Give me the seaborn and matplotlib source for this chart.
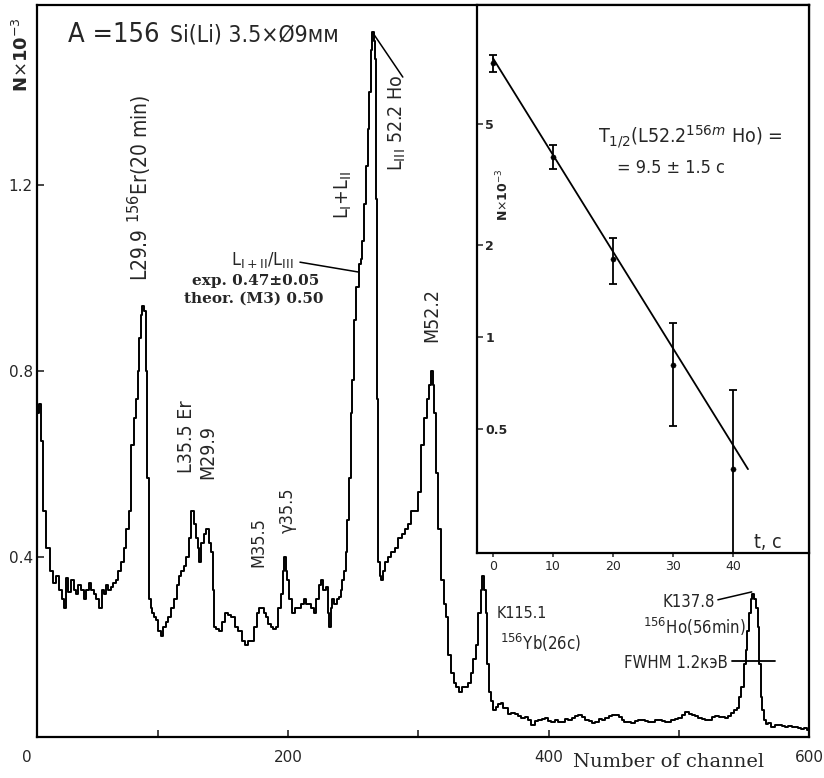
import matplotlib
matplotlib.use("Agg")
import matplotlib.pyplot as plt
import seaborn as sns
import numpy as np
import pandas as pd

# ---- spectrum: channel number and counts (N x 10^-3) ----
channel = [
    7.8, 9.3, 10.8, 13.1, 15.4, 18.5, 20.5, 22.4, 24.7, 27.0, 28.5, 30.0, 32.3, 34.6, 36.0,
    37.7, 40.0, 42.0, 43.9, 45.5, 47.7, 49.5, 51.5, 53.5, 55.4, 57.7, 59.0, 60.8, 62.5, 64.6,
    66.5, 68.4, 70.7, 72.5, 74.6, 76.5, 78.4, 80.7, 82.5, 83.8, 85.0, 86.1, 87.3, 88.4, 89.9,
    91.0, 91.5, 92.2, 93.8, 95.0, 96.1, 97.5, 99.2, 101.0, 103.0, 105.0, 106.8, 109.0, 111.4,
    113.5, 115.0, 116.8, 118.5, 120.7, 122.5, 124.5, 126.8, 128.5, 129.9, 131.0, 132.2, 134.0,
    136.0, 138.3, 140.0, 141.4, 142.5, 143.7, 145.5, 147.5, 150.0, 152.9, 155.0, 157.5, 160.0,
    162.9, 165.5, 168.3, 170.5, 172.9, 175.0, 176.7, 178.5, 180.6, 182.0, 183.6, 185.5, 187.5,
    189.5, 191.3, 193.5, 195.2, 196.5, 197.5, 198.5, 199.8, 201.5, 203.6, 206.0, 209.0, 211.0,
    212.8, 214.5, 216.7, 218.5, 220.5, 222.5, 224.0, 225.9, 227.8, 229.7, 231.0, 232.0, 233.0,
    234.3, 236.5, 238.0, 239.7, 241.0, 242.0, 243.5, 245.1, 245.8, 247.4, 248.9, 249.7, 251.2,
    253.5, 255.1, 256.0, 257.4, 259.0, 260.4, 261.5, 262.7, 264.3, 265.0, 266.2, 267.4, 268.1,
    268.9, 269.7, 270.8, 272.0, 273.5, 275.8, 278.0, 280.4, 283.0, 285.8, 288.5, 291.2, 293.5,
    295.8, 298.8, 301.1, 303.4, 305.5, 307.3, 309.0, 310.4, 311.5, 312.7, 314.2, 316.5, 318.8,
    320.5, 321.9, 324.2, 326.0, 328.0, 330.0, 331.9, 334.5, 337.2, 339.0, 341.1, 343.0, 344.9,
    347.2, 348.5, 349.5, 350.8, 352.6, 353.4, 354.9, 356.4, 358.7, 360.3, 362.0, 364.1, 366.0,
    368.0, 370.3, 372.6, 375.6, 378.0, 380.2, 383.0, 385.6, 387.9, 390.5, 393.3, 396.0, 398.7,
    401.0, 403.3, 406.0, 408.5, 411.0, 413.5, 416.3, 419.0, 421.5, 424.0, 426.5, 429.4, 432.0,
    434.5, 437.1, 440.0, 442.5, 444.8, 447.5, 450.0, 452.4, 455.0, 457.0, 459.5, 462.0, 464.7,
    467.5, 470.0, 472.4, 475.0, 477.5, 480.1, 483.0, 485.5, 488.0, 490.5, 493.1, 495.5, 498.0,
    500.8, 503.5, 505.5, 507.0, 509.0, 510.8, 513.5, 516.2, 519.0, 521.5, 523.9, 526.5, 529.2,
    532.0, 534.5, 536.9, 539.0, 541.5, 543.5, 545.4, 546.9, 549.2, 550.7, 552.3, 553.0, 554.5,
    556.1, 556.9, 558.5, 560.0, 561.2, 562.3, 563.5, 564.6, 566.0, 567.7, 570.0, 572.2, 575.0,
    577.6, 580.5, 583.0, 585.3, 588.0, 590.5, 592.9, 595.5, 597.5, 599.1,
]
counts = [
    0.71, 0.73, 0.65, 0.50, 0.42, 0.37, 0.345, 0.36, 0.33, 0.31, 0.29, 0.355, 0.325, 0.35, 0.33,
    0.32, 0.34, 0.33, 0.31, 0.33, 0.345, 0.33, 0.32, 0.31, 0.29, 0.33, 0.32, 0.34, 0.33, 0.335,
    0.345, 0.35, 0.37, 0.39, 0.42, 0.46, 0.50, 0.64, 0.70, 0.74, 0.80, 0.87, 0.92, 0.94, 0.93,
    0.80, 0.73, 0.57, 0.31, 0.29, 0.28, 0.27, 0.265, 0.24, 0.23, 0.25, 0.26, 0.27, 0.29,
    0.31, 0.34, 0.36, 0.37, 0.38, 0.40, 0.44, 0.50, 0.47, 0.44, 0.42, 0.39, 0.43,
    0.45, 0.46, 0.43, 0.41, 0.33, 0.25, 0.245, 0.24, 0.26, 0.28, 0.275, 0.27, 0.25,
    0.24, 0.22, 0.21, 0.22, 0.22, 0.25, 0.28, 0.29, 0.29, 0.28, 0.27, 0.255, 0.25,
    0.245, 0.25, 0.29, 0.32, 0.37, 0.40, 0.37, 0.35, 0.31, 0.28, 0.29, 0.29, 0.30,
    0.31, 0.30, 0.30, 0.29, 0.28, 0.31, 0.34, 0.35, 0.33, 0.335, 0.28, 0.25, 0.29,
    0.31, 0.30, 0.31, 0.315, 0.33, 0.35, 0.37, 0.41, 0.48, 0.57, 0.71, 0.78, 0.91,
    0.98, 1.03, 1.04, 1.08, 1.16, 1.24, 1.32, 1.40, 1.49, 1.53, 1.51, 1.47, 1.17,
    0.74, 0.39, 0.36, 0.35, 0.37, 0.39, 0.40, 0.41, 0.42, 0.44, 0.45, 0.46, 0.47,
    0.50, 0.50, 0.54, 0.64, 0.70, 0.74, 0.77, 0.80, 0.77, 0.71, 0.58, 0.46, 0.35,
    0.30, 0.27, 0.19, 0.15, 0.13, 0.12, 0.11, 0.12, 0.12, 0.13, 0.15, 0.18, 0.21,
    0.28, 0.33, 0.36, 0.33, 0.28, 0.17, 0.11, 0.09, 0.071, 0.078, 0.085, 0.086, 0.075,
    0.076, 0.062, 0.065, 0.063, 0.058, 0.054, 0.055, 0.050, 0.039, 0.048, 0.050, 0.052, 0.054,
    0.048, 0.046, 0.050, 0.045, 0.046, 0.052, 0.050, 0.054, 0.058, 0.061, 0.055, 0.050, 0.048,
    0.043, 0.046, 0.052, 0.050, 0.054, 0.058, 0.060, 0.061, 0.055, 0.050, 0.046, 0.045, 0.043,
    0.047, 0.050, 0.050, 0.048, 0.045, 0.046, 0.049, 0.050, 0.047, 0.045, 0.046, 0.050, 0.052,
    0.054, 0.060, 0.067, 0.067, 0.063, 0.061, 0.058, 0.054, 0.052, 0.050, 0.050, 0.055, 0.058,
    0.056, 0.055, 0.054, 0.058, 0.065, 0.070, 0.076, 0.10, 0.12, 0.17, 0.20, 0.24, 0.28,
    0.31, 0.32, 0.31, 0.29, 0.25, 0.17, 0.10, 0.07, 0.05, 0.04, 0.043, 0.035, 0.038,
    0.039, 0.036, 0.035, 0.037, 0.034, 0.035, 0.033, 0.031, 0.033, 0.028,
]

# ---- decay of the L 52.2 line (inset) ----
decay_time = [0, 10, 20, 30, 40]
decay_counts = [7.9, 3.9, 1.8, 0.81, 0.37]
decay_err = [0.5, 0.35, 0.31, 0.30, 0.30]
half_life = 9.5
fit_n0 = 8.2
fit_t_end = 42.5

x_major_labels = ["200", "400", "600"]
y_main_ticks = [0.4, 0.8, 1.2]
inset_y_ticks = [0.5, 1, 2, 5]
inset_x_ticks = [0, 10, 20, 30, 40]

sns.set_theme(style="white")
plt.rcParams["font.family"] = ["DejaVu Sans"]
plt.rcParams["mathtext.fontset"] = "dejavusans"

# condensed lettering for the hand-drawn style labels
LAB = dict(family=["DejaVu Sans"], fontstretch="condensed")

W, H = 824, 778
fig = plt.figure(figsize=(W / 100, H / 100), dpi=100)
fig.patch.set_facecolor("white")


def fxy(px, py):
    return px / W, 1 - py / H


# ---- main spectrum axes ----
ax = fig.add_axes([37 / W, 1 - 737 / H, 772 / W, 732 / H])
ax.set_facecolor("white")
spec = pd.DataFrame({"channel": channel, "N": counts})
sns.lineplot(data=spec, x="channel", y="N", ax=ax, color="black", lw=1.4,
             drawstyle="steps-mid", estimator=None, sort=False)
ax.set_xlim(7, 600)
ax.set_ylim(0.013, 1.587)
ax.set_xlabel("")
ax.set_ylabel("")
for s in ax.spines.values():
    s.set_color("black")
    s.set_linewidth(1.6)

ax.set_xticks([100, 200, 300, 400, 500, 600])
ax.set_xticklabels(["", x_major_labels[0], "", x_major_labels[1], "", x_major_labels[2]])
ax.set_yticks(y_main_ticks)
ax.set_yticklabels([f"{v:.1f}" for v in y_main_ticks])
ax.tick_params(axis="x", direction="in", length=5, width=1.2, pad=9, labelsize=11)
ax.tick_params(axis="y", direction="in", length=5, width=1.2, pad=3, labelsize=11)
ax.tick_params(bottom=True, left=True)

fig.text(*fxy(27, 757), "0", ha="center", va="center", fontsize=11)
fig.text(*fxy(573, 762), "Number of channel", ha="left", va="center",
         fontsize=14, family="DejaVu Serif")
fig.text(*fxy(22, 55), r"N$\times$10$^{-3}$", rotation=90, ha="center", va="center",
         fontsize=13, fontweight="bold")

fig.text(*fxy(68, 35), "A =156", ha="left", va="center", fontsize=19.5, **LAB)
fig.text(*fxy(170, 35), "Si(Li) 3.5×Ø9мм", ha="left", va="center", fontsize=16.5, **LAB)

# peak labels
rot_labels = [
    (r"L29.9 $^{156}$Er(20 min)", 140, 188, 15),
    (r"L$_{\rm I}$+L$_{\rm II}$", 343, 195, 14),
    (r"L$_{\rm III}$ 52.2 Ho", 397, 123, 14),
    ("M52.2", 432, 315, 14),
    ("L35.5 Er", 187, 437, 14),
    ("M29.9", 208, 452, 14),
    ("M35.5", 258, 542, 13),
    ("γ35.5", 288, 510, 13),
]
for txt, px, py, fs in rot_labels:
    fig.text(*fxy(px, py), txt, rotation=90, ha="center", va="center", fontsize=fs, **LAB)

fig.text(*fxy(262, 260), r"L$_{\rm I+II}$/L$_{\rm III}$", ha="center", va="center",
         fontsize=13, **LAB)
fig.text(*fxy(256, 281), "exp. 0.47±0.05", ha="center", va="center", fontsize=11,
         family="DejaVu Serif", fontweight="bold")
fig.text(*fxy(254, 299), "theor. (M3) 0.50", ha="center", va="center", fontsize=11,
         family="DejaVu Serif", fontweight="bold")

fig.text(*fxy(497, 613), "K115.1", ha="left", va="center", fontsize=11.5, **LAB)
fig.text(*fxy(500, 643), r"$^{156}$Yb(26c)", ha="left", va="center", fontsize=12, **LAB)
fig.text(*fxy(663, 602), "K137.8", ha="left", va="center", fontsize=12, **LAB)
fig.text(*fxy(643, 627), r"$^{156}$Ho(56min)", ha="left", va="center", fontsize=12, **LAB)
fig.text(*fxy(624, 663), "FWHM 1.2кэВ", ha="left", va="center", fontsize=12, **LAB)

# leader lines in data coordinates
ax.plot([265.0, 288.0], [1.527, 1.432], color="black", lw=1.1)
ax.plot([209.0, 253.5], [1.034, 1.013], color="black", lw=1.1)
ax.plot([530.0, 556.0], [0.308, 0.325], color="black", lw=1.1)
ax.plot([541.0, 574.0], [0.177, 0.177], color="black", lw=1.3)

# ---- inset: decay curve on log scale ----
ins = fig.add_axes([477 / W, 1 - 553 / H, 332 / W, 548 / H])
ins.set_facecolor("white")
ins.set_yscale("log")
ins.set_xlim(-2.67, 52.67)
ins.set_ylim(0.196, 12.26)
for s in ins.spines.values():
    s.set_color("black")
    s.set_linewidth(1.6)

t_fit = np.linspace(0, fit_t_end, 50)
fit_df = pd.DataFrame({"t": t_fit, "N": fit_n0 * 2.0 ** (-t_fit / half_life)})
sns.lineplot(data=fit_df, x="t", y="N", ax=ins, color="black", lw=1.3, estimator=None)
ins.errorbar(decay_time, decay_counts, yerr=decay_err, fmt="none", ecolor="black",
             elinewidth=1.3, capsize=3, capthick=1.3)
sns.scatterplot(x=decay_time, y=decay_counts, ax=ins, color="black", s=14,
                edgecolor="black", zorder=5)
ins.set_xlabel("")
ins.set_ylabel("")

ins.set_xticks(inset_x_ticks)
ins.set_xticklabels([str(v) for v in inset_x_ticks])
ins.tick_params(axis="x", direction="out", length=3, width=1.1, pad=2, labelsize=9)
ins.set_yticks(inset_y_ticks)
ins.set_yticklabels(["0.5", "1", "2", "5"])
ins.yaxis.set_minor_locator(matplotlib.ticker.NullLocator())
ins.tick_params(axis="y", direction="in", length=4, width=1.1, pad=-6, labelsize=9)
for lab in ins.get_yticklabels():
    lab.set_horizontalalignment("left")
    lab.set_fontweight("bold")
ins.tick_params(bottom=True, left=True)

fig.text(*fxy(503, 195), r"N$\times$10$^{-3}$", rotation=90, ha="center", va="center",
         fontsize=9, fontweight="bold")
fig.text(*fxy(768, 543), "t, c", ha="center", va="center", fontsize=14, **LAB)
fig.text(*fxy(598, 137), r"T$_{1/2}$(L52.2$^{156m}$ Ho) =", ha="left", va="center",
         fontsize=14, **LAB)
fig.text(*fxy(617, 168), "= 9.5 ± 1.5 c", ha="left", va="center", fontsize=13, **LAB)

fig.savefig("out.png", dpi=100, facecolor="white")
